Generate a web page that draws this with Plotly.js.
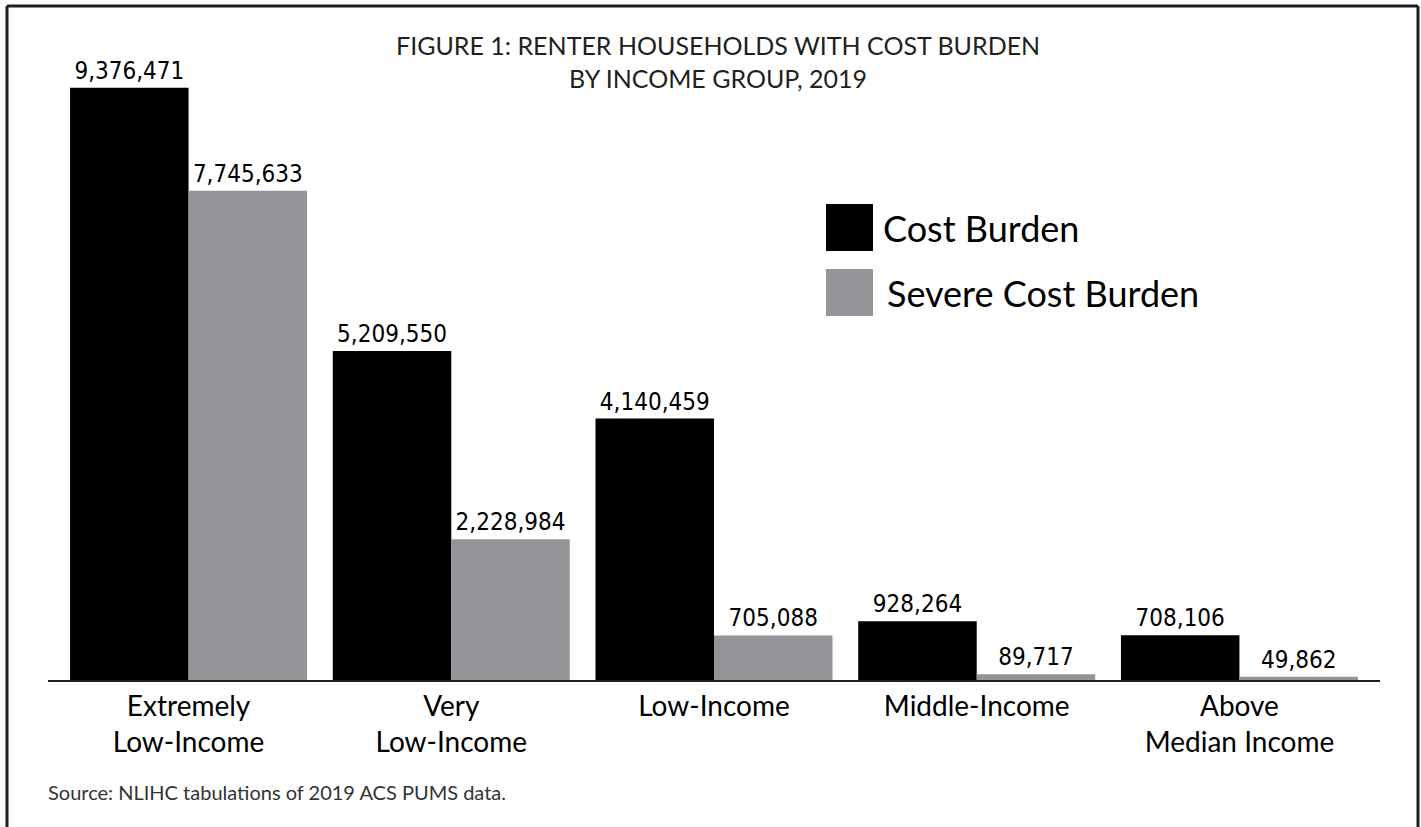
<!DOCTYPE html>
<html>
<head>
<meta charset="utf-8">
<script src="https://cdn.plot.ly/plotly-3.0.1.min.js"></script>
<style>html,body{margin:0;padding:0;background:#fff;}#chart{width:1421px;height:827px;}</style>
</head>
<body>
<div id="chart"></div>
<script>
// ---- data ----
const categories = ["Extremely Low-Income", "Very Low-Income", "Low-Income", "Middle-Income", "Above Median Income"];
const tickLabels = ["Extremely<br>Low-Income", "Very<br>Low-Income", "Low-Income", "Middle-Income", "Above<br>Median Income"];
const costBurden = [9376471, 5209550, 4140459, 928264, 708106];
const severeCostBurden = [7745633, 2228984, 705088, 89717, 49862];
const seriesNames = ["Cost Burden", "Severe Cost Burden"];
const titleText = "FIGURE 1: RENTER HOUSEHOLDS WITH COST BURDEN<br>BY INCOME GROUP, 2019";
const sourceText = "Source: NLIHC tabulations of 2019 ACS PUMS data.";

// ---- layout geometry (pixels) ----
const W = 1421, H = 827;
const L = 48, R = 41, T = 80, B = 147;
const PW = W - L - R, PH = H - T - B;
const px = x => (x - L) / PW;           // pixel x -> paper x
const py = y => (H - B - y) / PH;       // pixel y -> paper y

const dark = "#231f20";
const grey = "#939598";
const labelFont = {family: "'DejaVu Sans Condensed', sans-serif", size: 24, color: "#000"};
const mainFont = "Lato, 'Open Sans', sans-serif";

const traces = [
  {type: "bar", x: categories, y: costBurden, name: seriesNames[0],
   marker: {color: "#000000", line: {width: 0}},
   texttemplate: "%{y:,}", textposition: "outside", textfont: labelFont, cliponaxis: false, hoverinfo: "skip"},
  {type: "bar", x: categories, y: severeCostBurden, name: seriesNames[1],
   marker: {color: grey, line: {width: 0}},
   texttemplate: "%{y:,}", textposition: "outside", textfont: labelFont, cliponaxis: false, hoverinfo: "skip"}
];

const frameW = 3;
const shapes = [
  // frame (top, left, right; open at bottom)
  {type: "line", xref: "paper", yref: "paper", x0: px(7), x1: px(1418), y0: py(6), y1: py(6), line: {color: dark, width: frameW}},
  {type: "line", xref: "paper", yref: "paper", x0: px(7), x1: px(7), y0: py(6), y1: py(H), line: {color: dark, width: frameW}},
  {type: "line", xref: "paper", yref: "paper", x0: px(1418), x1: px(1418), y0: py(6), y1: py(H), line: {color: dark, width: frameW}},
  // legend swatches
  {type: "rect", xref: "paper", yref: "paper", x0: px(826), x1: px(873), y0: py(204), y1: py(251), fillcolor: "#000000", line: {width: 0}},
  {type: "rect", xref: "paper", yref: "paper", x0: px(826), x1: px(873), y0: py(269), y1: py(316), fillcolor: grey, line: {width: 0}}
];

const annotations = [
  {xref: "paper", yref: "paper", x: px(718), y: py(62), xanchor: "center", yanchor: "middle", showarrow: false,
   text: titleText, align: "center", font: {family: mainFont, size: 25, color: dark}},
  {xref: "paper", yref: "paper", x: px(881), y: py(228), xanchor: "left", yanchor: "middle", showarrow: false,
   text: seriesNames[0], font: {family: mainFont, size: 36, color: "#000"}},
  {xref: "paper", yref: "paper", x: px(885), y: py(293), xanchor: "left", yanchor: "middle", showarrow: false,
   text: seriesNames[1], font: {family: mainFont, size: 36, color: "#000"}},
  {xref: "paper", yref: "paper", x: px(46), y: py(792), xanchor: "left", yanchor: "middle", showarrow: false,
   text: sourceText, font: {family: mainFont, size: 20, color: "#333"}}
];

const layout = {
  width: W, height: H,
  margin: {l: L, r: R, t: T, b: B, pad: 0},
  paper_bgcolor: "#fff", plot_bgcolor: "#fff",
  showlegend: false,
  barmode: "group", bargap: 0.098, bargroupgap: 0,
  xaxis: {type: "category", tickmode: "array", tickvals: categories, ticktext: tickLabels,
          range: [-0.535, 4.535], showline: true, linecolor: dark, linewidth: 2,
          ticks: "", showgrid: false, zeroline: false, fixedrange: true,
          tickfont: {family: mainFont, size: 28, color: "#000"}},
  yaxis: {range: [0, 9.5e6], visible: false, showgrid: false, zeroline: false, fixedrange: true},
  shapes: shapes,
  annotations: annotations,
  font: {family: mainFont}
};

Plotly.newPlot("chart", traces, layout, {displayModeBar: false, staticPlot: true});
</script>
</body>
</html>
